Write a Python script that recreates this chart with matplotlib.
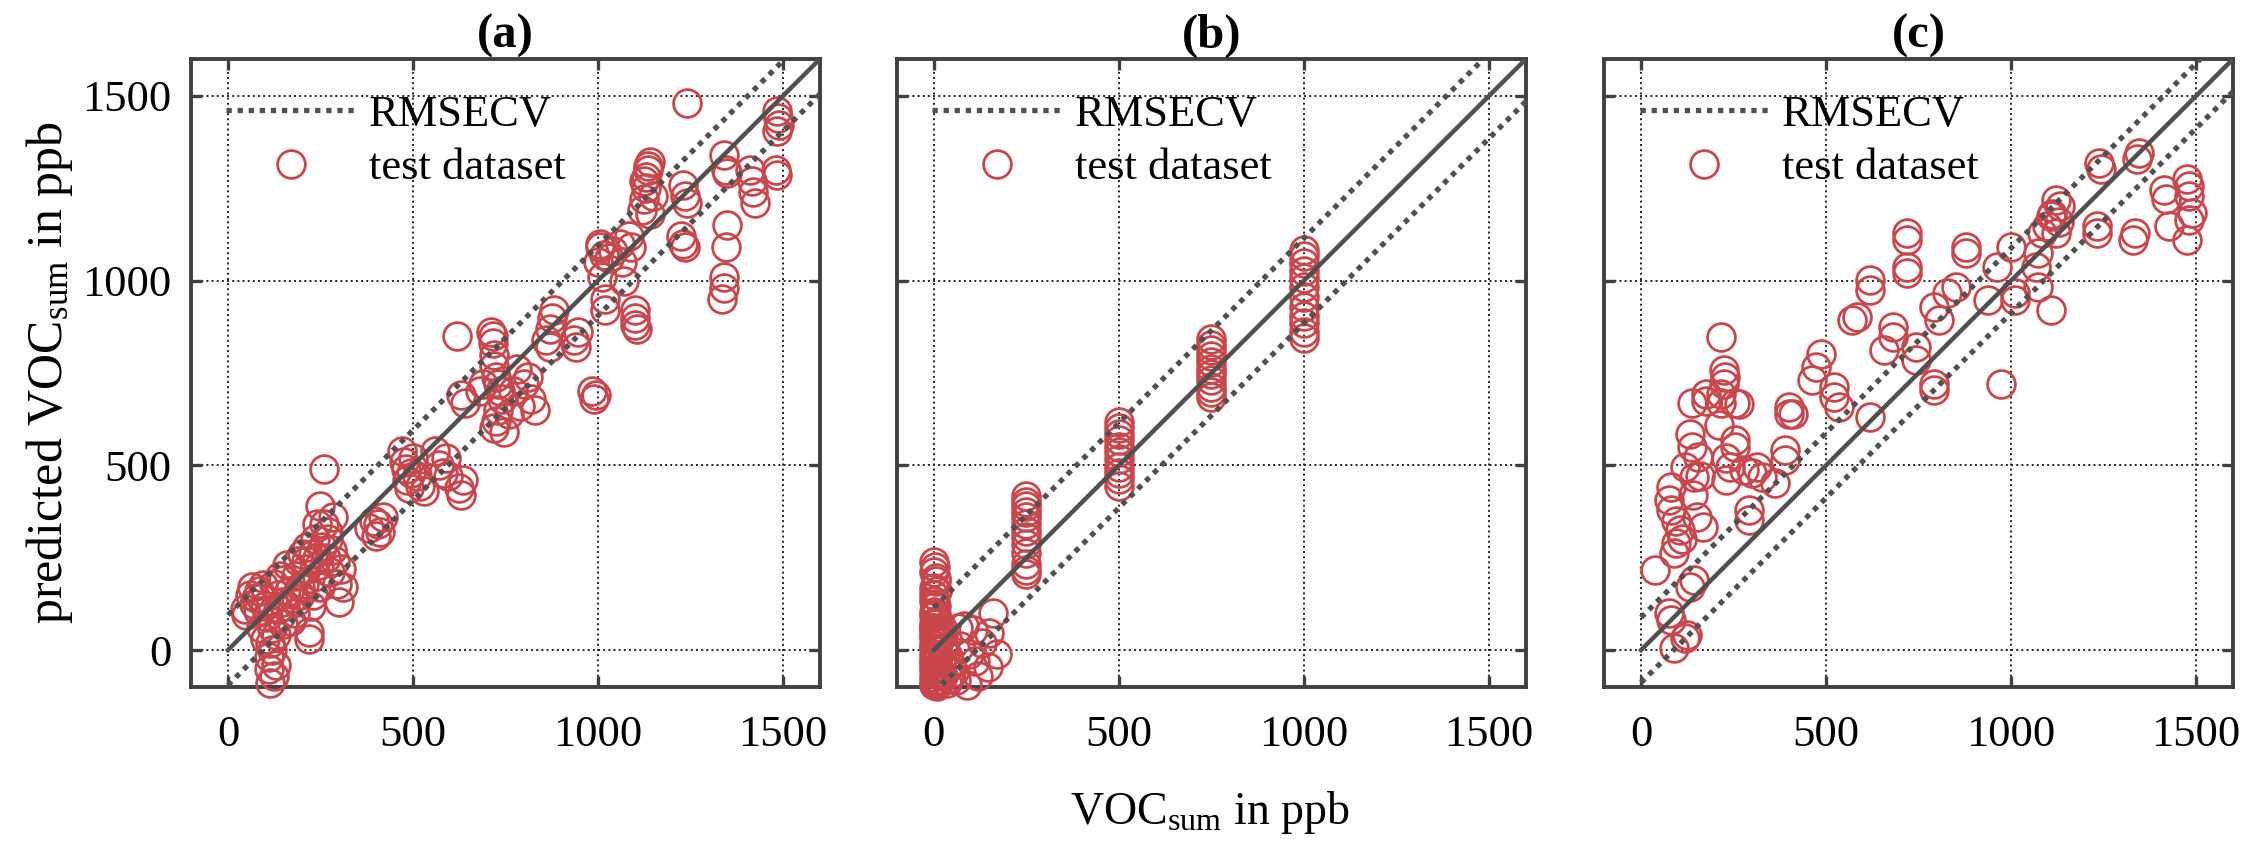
import matplotlib.pyplot as plt
from matplotlib.lines import Line2D

plt.rcParams['font.family'] = 'Liberation Serif'
plt.rcParams['mathtext.fontset'] = 'custom'
plt.rcParams['mathtext.rm'] = 'Liberation Serif'
plt.rcParams['mathtext.it'] = 'Liberation Serif:italic'

# (a) true vs predicted VOC sum, ppb
a_true = [45, 50, 60, 70, 85, 90, 95, 100, 90, 100, 105, 65, 75, 80,
          110, 115, 125, 120, 130, 135, 140, 140, 125, 150, 155, 160, 165,
          115, 120, 135, 145, 150, 170, 175, 110, 130,
          180, 185, 190, 195, 200, 205, 210, 185, 195, 210, 215,
          220, 220, 225, 230, 235, 240, 240, 245, 250, 250, 230, 240,
          255, 260, 265, 270, 275, 280, 285, 290, 295, 300, 305, 310, 260, 270,
          380, 395, 400, 410, 420, 405,
          470, 475, 480, 485, 490, 500, 510, 520, 530, 495,
          560, 570, 580, 590, 595,
          620, 625, 630, 635, 630, 640,
          680, 690,
          710, 715, 720, 720, 725, 730, 735, 720, 725, 730, 740, 745, 715,
          760, 770, 780, 790,
          800, 810, 820, 830,
          860, 870, 875, 880, 870,
          935, 940, 945,
          985, 990, 995,
          1000, 1005, 1010, 1015, 1020, 1020, 1040, 1060, 1065, 1070, 1005, 1030,
          1085, 1090, 1100, 1100, 1100, 1105,
          1120, 1125, 1130, 1130, 1135, 1140, 1140, 1150, 1135, 1125,
          1240, 1230, 1235, 1240, 1225, 1230, 1235,
          1340, 1345, 1350, 1350, 1345, 1340, 1340, 1335,
          1410, 1415, 1420, 1425,
          1485, 1487, 1490, 1485, 1480, 1485]
a_pred = [110, 95, 150, 125, 160, 140, 175, 120, 60, 30, 90, 170, 140, 105,
          -50, -90, -70, 0, 40, 150, 90, 200, 180, 70, 120, 230, 160,
          20, 60, 110, 130, 190, 80, 140, -20, -40,
          100, 200, 240, 150, 260, 180, 220, 130, 170, 240, 280,
          50, 30, 120, 260, 300, 200, 340, 230, 390, 170, 150, 250,
          280, 490, 250, 320, 210, 270, 360, 240, 180, 130, 220, 170, 340, 300,
          330, 350, 310, 320, 360, 340,
          540, 510, 490, 460, 440, 520, 470, 445, 430, 480,
          540, 500, 480, 520, 470,
          850, 440, 420, 460, 690, 670,
          700, 720,
          860, 830, 800, 770, 740, 720, 700, 600, 620, 650, 680, 590, 850,
          640, 700, 760, 660,
          720, 740, 680, 650,
          840, 870, 900, 920, 820,
          840, 820, 860,
          700, 680, 690,
          1050, 1090, 1010, 1070, 920, 950, 1080, 1100, 1050, 1000, 1100, 1060,
          1120, 1090, 880, 900, 920, 870,
          1190, 1220, 1250, 1280, 1300, 1320, 1180, 1230, 1310, 1270,
          1480, 1260, 1230, 1210, 1120, 1100, 1090,
          1340, 1300, 1290, 1150, 1090, 1010, 980, 950,
          1300, 1270, 1240, 1210,
          1460, 1440, 1420, 1405, 1300, 1285]

# (b)
b_true = [0, 0, 5, 0, 10, 0, 5, 0, 0, 10, 0, 5, 0, 0, 5, 0, 0, 5, 0, 0,
          5, 0, 0, 5, 0, 0, 0, 5, 0, 0,
          8, 3, 12, 6, 2, 9, 4, 11, 7, 1, 10, 6, 3, 8, 5, 2,
          15, 25, 35, 20, 30, 10, 25, 35, 40, 18, 28, 45, 22, 38,
          55, 65, 80, 95, 105, 120, 130, 145, 160, 170, 150, 90, 70, 110, 60,
          250, 250, 250, 250, 250, 250, 250, 250, 250, 250, 250, 250, 250,
          500, 500, 500, 500, 500, 500, 500, 500, 500, 500, 500,
          750, 750, 750, 750, 750, 750, 750, 750, 750, 750, 750,
          1000, 1000, 1000, 1000, 1000, 1000, 1000, 1000, 1000, 1000, 1000, 1000]
b_pred = [-95, -88, -80, -72, -63, -55, -46, -38, -29, -20, -12, -3, 6, 15, 24,
          33, 42, 51, 60, 70, 80, 92, 104, 118, 132, 150, 168, 188, 210, 238,
          -98, -84, -67, -51, -34, -17, 1, 19, 37, 56, 74, 97, 126, 159, 196, 225,
          -85, -70, -50, -30, -10, 20, 40, -90, -75, -60, 5, -40, 60, -15,
          -60, 60, 65, -10, 55, -70, 20, -45, 100, -10, 45, -95, 10, -30, -80,
          205, 218, 232, 262, 288, 305, 322, 341, 360, 374, 389, 402, 418,
          443, 462, 478, 496, 517, 535, 551, 568, 584, 601, 617,
          684, 699, 713, 731, 748, 762, 779, 796, 811, 826, 842,
          846, 862, 884, 905, 928, 957, 984, 1006, 1027, 1048, 1066, 1083]

# (c)
c_true = [1237, 1243, 1347, 1341, 1476, 1482, 1414, 1489, 1482, 1426, 1476, 1335, 1329, 1233, 1233,
          1121, 1133, 1108, 1097, 1084, 1121, 1072, 1067, 999, 962, 1011, 1011, 1108, 1072, 938, 974,
          877, 877, 852, 828, 792, 804, 718, 718, 718, 718, 620, 620, 584, 571, 681, 681, 656, 743, 743,
          792, 792, 620,
          216, 223, 228, 223, 216, 265, 485, 473, 461, 522, 522, 399, 399, 175, 175,
          137, 216, 253, 412, 535, 131, 137, 155, 143, 119, 253, 253, 241, 278, 229, 314, 327, 388, 388,
          363, 291, 291, 82, 76, 82, 167, 106, 94, 88, 39, 143, 131, 76, 82, 125, 88, 119,
          140, 150, 210, 230, 110, 95, 160, 300, 1110, 1130, 1480, 1420]
c_pred = [1319, 1301, 1346, 1328, 1274, 1255, 1246, 1183, 1165, 1147, 1110, 1129, 1111, 1147, 1129,
          1219, 1201, 1174, 1147, 1129, 1129, 1074, 1038, 1092, 1038, 966, 947, 920, 984, 947, 721,
          1092, 1074, 984, 966, 929, 893, 1129, 1111, 1038, 1020, 1002, 975, 902, 893, 875, 848, 811, 820, 784,
          721, 703, 630,
          847, 757, 739, 721, 694, 667, 802, 766, 730, 712, 685, 657, 639, 694, 675,
          668, 668, 668, 640, 658, 586, 550, 523, 469, 496, 568, 550, 496, 487, 460, 496, 469, 541, 514,
          451, 379, 352, 442, 406, 379, 334, 325, 289, 262, 217, 190, 172, 100, 82, 41, 5, 32,
          420, 360, 610, 520, 300, 350, 470, 480, 1180, 1160, 1230, 1220]

panel_true = [a_true, b_true, c_true]
panel_pred = [a_pred, b_pred, c_pred]
rmsecv = [95, 115, 88]
titles = ['(a)', '(b)', '(c)']
ticks = [0, 500, 1000, 1500]

red = '#C9474C'
grey = '#505050'
dots = (0, (1, 1.1))

fig = plt.figure(figsize=(22.57, 8.51), dpi=100)
lefts = [0.0846, 0.3974, 0.7107]

for i in range(3):
    ax = fig.add_axes([lefts[i], 0.1927, 0.2787, 0.738])
    ax.set_xlim(-100, 1600)
    ax.set_ylim(-100, 1600)
    ax.set_xticks(ticks)
    ax.set_yticks(ticks)
    ax.grid(True, linestyle=':', color='#222222', linewidth=1.4)
    ax.set_axisbelow(True)

    # markers near the lower edge are drawn whole, not cut at the frame
    ax.plot(panel_true[i], panel_pred[i], 'o', mfc='none', mec=red,
            ms=20, mew=2.0, zorder=3, clip_on=False)

    ref = [0, 1600]
    ax.plot(ref, ref, color=grey, lw=3.2, zorder=4)
    r = rmsecv[i]
    ax.plot(ref, [v + r for v in ref], color=grey, lw=3.8, linestyle=dots, zorder=4)
    ax.plot(ref, [v - r for v in ref], color=grey, lw=3.8, linestyle=dots, zorder=4)

    for s in ax.spines.values():
        s.set_color('#404040')
        s.set_linewidth(2.8)
    ax.tick_params(direction='in', length=8, width=2.4, color='#404040',
                   top=True, right=True, labelsize=32, pad=20)
    ax.tick_params(axis='y', pad=14)
    if i > 0:
        ax.set_yticklabels([])

    ax.set_title(titles[i], fontsize=35, fontweight='bold', pad=8)

    handles = [
        Line2D([], [], color=grey, lw=3.8, linestyle=dots),
        Line2D([], [], marker='o', linestyle='none', mfc='none', mec=red,
               ms=20, mew=2.0),
    ]
    ax.legend(handles, ['RMSECV', 'test dataset'], loc='upper left',
              frameon=False, fontsize=32, handlelength=2.9,
              handletextpad=0.3, labelspacing=0.3, borderaxespad=0.4)

fig.text(0.022, 0.562, r'predicted VOC$_{\mathrm{sum}}$ in ppb', rotation=90,
         ha='center', va='center', fontsize=36)
fig.text(0.536, 0.032, r'VOC$_{\mathrm{sum}}$ in ppb', ha='center',
         va='baseline', fontsize=33)

fig.savefig('out.png', dpi=100)
